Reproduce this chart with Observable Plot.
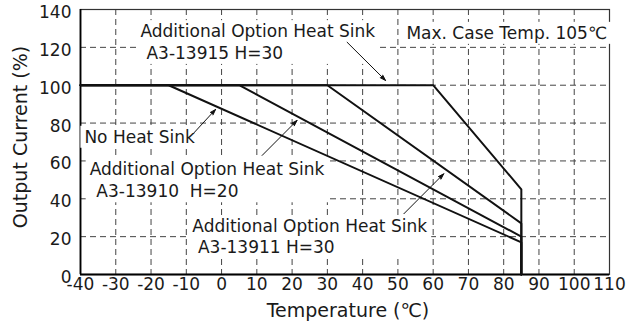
<!DOCTYPE html>
<html><head><meta charset="utf-8">
<script src="https://cdn.jsdelivr.net/npm/d3@7"></script>
<script src="https://cdn.jsdelivr.net/npm/@observablehq/plot@0.6"></script>
<style>
html,body{margin:0;padding:0;background:#fff;}
#chart svg{display:block;}
</style>
</head><body><div id="chart"></div>
<script>
// ---- data ----
const xTicks = [-40,-30,-20,-10,0,10,20,30,40,50,60,70,80,90,100,110];
const yTicks = [0,20,40,60,80,100,120,140];
const seriesNames = ["No Heat Sink","A3-13910 H=20","A3-13911 H=30","A3-13915 H=30"];
const startTemp = [-40,-40,-40,-40];
const kneeTemp = [-15,5,30,60];
const ratedCurrent = [100,100,100,100];
const cutoffTemp = [85,85,85,85];
const endCurrent = [17,20,27,45];

const labelText = ["Additional Option Heat Sink","A3-13915 H=30","Max. Case Temp. 105\u2103","No Heat Sink",
  "Additional Option Heat Sink","A3-13910\u00a0 H=20","Additional Option Heat Sink","A3-13911 H=30"];
const labelX = [-23.0,-21.3,109.3,-38.9,-37.4,-35.5,-8.3,-6.7];
const labelY = [125.4,113.9,124.5,69.6,52.8,40.8,22.3,11.3];
const labelAnchor = ["start","start","end","start","start","start","start","start"];
const labelBlock = [0,0,1,2,3,3,4,4];

const arrowX1 = [-8.0,11.5,51.7,35.6];
const arrowY1 = [74.5,62.9,32.1,122.7];
const arrowX2 = [-1.7,21.4,63.0,46.5];
const arrowY2 = [87.2,81.4,53.2,102.5];

const xTitle = "Temperature (\u2103)";
const yTitle = "Output Current (%)";

// ---- build tables ----
const curves = seriesNames.flatMap((s,i) => [
  {s, t:startTemp[i], c:ratedCurrent[i]},
  {s, t:kneeTemp[i], c:ratedCurrent[i]},
  {s, t:cutoffTemp[i], c:endCurrent[i]},
  {s, t:cutoffTemp[i], c:0}
]);
const labels = labelText.map((text,i)=>({text, x:labelX[i], y:labelY[i], anchor:labelAnchor[i], block:labelBlock[i]}));
const labelsStart = labels.filter(d => d.anchor === "start");
const labelsEnd = labels.filter(d => d.anchor === "end");
const arrows = arrowX1.map((d,i)=>({x1:d, y1:arrowY1[i], x2:arrowX2[i], y2:arrowY2[i]}));
const xDomain = [xTicks[0], xTicks[xTicks.length-1]];
const yDomain = [yTicks[0], yTicks[yTicks.length-1]];

const FONT = "DejaVu Sans, Liberation Sans, Arial, sans-serif";

const chart = Plot.plot({
  width: 626, height: 324,
  marginLeft: 80, marginRight: 17, marginTop: 9, marginBottom: 50,
  style: {fontFamily: FONT, fontSize: "17px", color: "#1a1a1a", background: "#fff"},
  x: {domain: xDomain},
  y: {domain: yDomain},
  marks: [
    Plot.gridX(xTicks.slice(1,-1), {stroke:"#444", strokeOpacity:1, strokeWidth:1, strokeDasharray:"6,4"}),
    Plot.gridY(yTicks.slice(1,-1), {stroke:"#444", strokeOpacity:1, strokeWidth:1, strokeDasharray:"6,4"}),
    Plot.frame({stroke:"#333", strokeWidth:1.2}),
    Plot.ruleX([xDomain[0]], {stroke:"#000", strokeWidth:1.8}),
    Plot.ruleY([yDomain[0]], {stroke:"#000", strokeWidth:1.8}),
    Plot.axisX({ticks: xTicks, tickSize: 0, tickPadding: 3.5, tickFormat: d => String(d), label: null, fontSize: 17}),
    Plot.axisY({ticks: yTicks, tickSize: 0, tickPadding: 9, dy: 3, tickFormat: d => String(d), label: null, fontSize: 17}),
    Plot.text([xTitle], {frameAnchor: "bottom", lineAnchor: "bottom", dy: 42, dx: 3, fontSize: 19}),
    Plot.text([yTitle], {frameAnchor: "left", textAnchor: "middle", lineAnchor: "middle", rotate: -90, dx: -60, dy: -5, fontSize: 19}),
    Plot.line(curves, {x: "t", y: "c", z: "s", stroke: "#111", strokeWidth: 2, strokeLinejoin: "miter"}),
    Plot.arrow(arrows, {x1:"x1", y1:"y1", x2:"x2", y2:"y2", stroke:"#111", fill:"#111", strokeWidth:1, headLength:9, headAngle:35}),
    Plot.text(labelsStart, {x:"x", y:"y", text:"text", textAnchor: "start", lineAnchor:"bottom", fontSize: 17, fill:"#1a1a1a", ariaDescription: "annot-start"}),
    Plot.text(labelsEnd, {x:"x", y:"y", text:"text", textAnchor: "end", lineAnchor:"bottom", fontSize: 17, fill:"#1a1a1a", ariaDescription: "annot-end"})
  ]
});
document.getElementById("chart").appendChild(chart);

// white boxes behind annotation blocks (erase grid behind text)
(function(){
  const svg = chart;
  const sb = svg.getBoundingClientRect();
  const boxes = {};
  const groups = [["annot-start", labelsStart], ["annot-end", labelsEnd]];
  groups.forEach(([desc, data]) => {
    const g = svg.querySelector(`g[aria-description="${desc}"]`);
    if (!g) return;
    Array.from(g.querySelectorAll("text")).forEach((t,i) => {
      const b = t.getBoundingClientRect();
      const k = data[i].block;
      const r = {x0:b.left-sb.left, y0:b.top-sb.top, x1:b.right-sb.left, y1:b.bottom-sb.top};
      if (!boxes[k]) boxes[k] = r; else {
        boxes[k].x0 = Math.min(boxes[k].x0, r.x0); boxes[k].y0 = Math.min(boxes[k].y0, r.y0);
        boxes[k].x1 = Math.max(boxes[k].x1, r.x1); boxes[k].y1 = Math.max(boxes[k].y1, r.y1);
      }
    });
  });
  const ns = "http://www.w3.org/2000/svg";
  const bg = document.createElementNS(ns, "g");
  Object.values(boxes).forEach(r => {
    const rect = document.createElementNS(ns, "rect");
    rect.setAttribute("x", r.x0 - 4); rect.setAttribute("y", r.y0 - 1);
    rect.setAttribute("width", r.x1 - r.x0 + 8); rect.setAttribute("height", r.y1 - r.y0 + 2);
    rect.setAttribute("fill", "#fff");
    bg.appendChild(rect);
  });
  const lineG = svg.querySelector('g[aria-label="line"]');
  svg.insertBefore(bg, lineG);
})();
</script>
</body></html>
